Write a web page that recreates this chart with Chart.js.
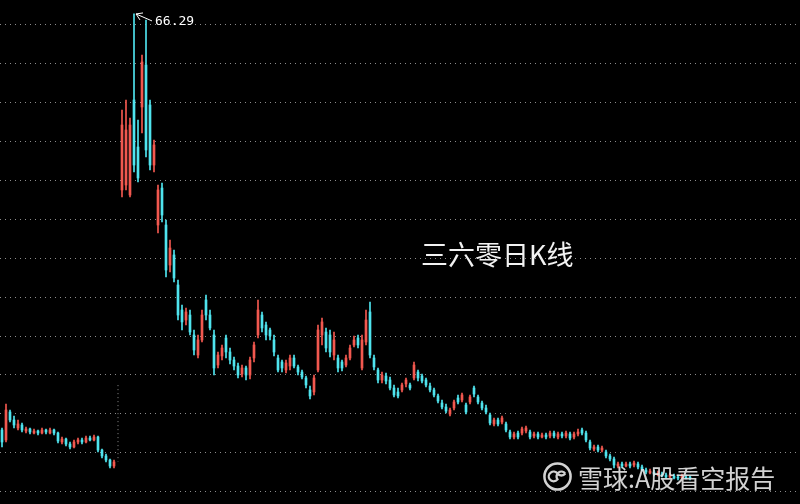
<!DOCTYPE html>
<html>
<head>
<meta charset="utf-8">
<script src="https://cdn.jsdelivr.net/npm/chart.js@4.4.1/dist/chart.umd.min.js"></script>
<style>
html, body { margin: 0; padding: 0; background: #000; }
#wrap { position: relative; width: 800px; height: 504px; overflow: hidden; }
#title { position: absolute; left: 421px; top: 240px; color: #f2f2f2; font: 27px/27px "Noto Sans CJK SC", sans-serif; }
#mark { position: absolute; left: 542px; top: 461px; color: rgba(228,228,228,0.92); font: 25px/30px "Noto Sans CJK SC", sans-serif; display: flex; align-items: center; }
#mark svg { margin-right: 5px; }
</style>
</head>
<body>
<div id="wrap">
<canvas id="kChart" width="800" height="504"></canvas>
<div id="title">三六零日K线</div>
<div id="mark"><svg width="31" height="31" viewBox="-16 -16 32 32"><circle r="13.5" fill="none" stroke="rgba(228,228,228,0.92)" stroke-width="2.6"/><path d="M -8 3 A 5 5 0 0 1 0 -3 A 5 5 0 0 0 8 -3 M -8 3 A 5 5 0 0 0 0 3 A 5 5 0 0 1 8 -3" fill="none" stroke="rgba(228,228,228,0.92)" stroke-width="2.4"/></svg><span>雪球:A股看空报告</span></div>
</div>
<script>
// daily candles, old listing (0-28), break (29), then 360 after listing
const opens = [
  12.95, 11.67, 15.26, 14.23, 13.21, 13.59, 12.82, 13.08, 12.56, 12.82,
  12.56, 12.95, 12.56, 12.95, 12.56, 11.41, 11.79, 11.15, 10.77, 11.41,
  11.67, 11.41, 11.92, 11.67, 12.05, 10.38, 9.62, 9.10, 8.33, null,
  43.72, 44.36, 43.08, 55.26, 49.23, 54.36, 59.74, 54.62, 46.92, 39.23,
  43.97, 39.23, 34.10, 35.39, 31.54, 28.33, 27.05, 27.69, 25.13, 22.56,
  24.49, 29.62, 27.69, 25.13, 21.28, 22.44, 24.74, 22.95, 21.92, 21.15,
  20.13, 20.90, 20.00, 22.18, 25.13, 27.69, 26.41, 25.77, 24.49, 22.18,
  21.67, 20.64, 21.15, 22.18, 21.03, 20.38, 19.62, 18.08, 17.82, 20.64,
  25.13, 25.51, 25.13, 22.56, 22.18, 21.67, 21.28, 22.18, 23.85, 24.74,
  20.90, 24.23, 28.08, 22.18, 20.64, 19.36, 19.87, 19.36, 18.33, 17.82,
  18.08, 18.85, 18.72, 19.62, 20.38, 19.87, 19.36, 18.59, 18.08, 17.31,
  16.41, 15.90, 15.00, 15.77, 17.05, 16.80, 16.15, 16.54, 18.33, 17.18,
  16.41, 15.77, 14.87, 13.72, 14.23, 13.97, 13.72, 12.69, 12.05, 12.56,
  12.56, 12.82, 12.69, 12.18, 12.44, 12.05, 12.31, 12.18, 12.56, 12.05,
  12.44, 12.18, 12.44, 12.05, 12.44, 12.95, 12.56, 11.41, 10.51, 10.77,
  10.38, 10.13, 9.62, 9.23, 8.33, 8.59, 8.33, 8.59, 8.46, 8.59,
  8.21, 7.82, 7.44, 7.56, 7.18, 7.31, 7.18, 6.92, 7.05, 6.92,
  6.79, 6.92, 6.92
]
const highs = [
  13.21, 16.28, 15.51, 14.74, 14.23, 13.85, 13.33, 13.21, 13.08, 12.95,
  13.21, 13.08, 13.21, 13.08, 12.69, 12.05, 11.92, 11.41, 11.67, 11.92,
  11.92, 12.18, 12.18, 12.31, 12.18, 10.51, 9.87, 9.23, 9.10, null,
  53.97, 55.26, 52.95, 66.29, 52.69, 61.03, 65.51, 55.26, 50.13, 44.36,
  44.62, 39.87, 37.31, 36.03, 32.18, 28.97, 28.59, 28.33, 25.77, 25.13,
  28.33, 30.26, 28.33, 25.77, 22.95, 23.85, 25.13, 23.46, 22.31, 21.54,
  21.28, 21.15, 22.31, 24.23, 29.62, 28.08, 26.80, 26.03, 25.13, 22.56,
  21.92, 21.92, 22.56, 22.56, 21.28, 20.64, 19.87, 18.59, 20.00, 26.41,
  27.31, 26.03, 25.77, 25.51, 22.56, 21.92, 22.56, 23.85, 25.00, 25.13,
  25.13, 28.33, 29.36, 22.56, 20.90, 20.38, 20.26, 19.74, 18.72, 18.33,
  18.97, 19.62, 18.97, 21.67, 20.64, 20.13, 19.62, 18.97, 18.33, 17.56,
  16.80, 16.28, 15.77, 16.80, 17.44, 17.69, 16.41, 17.44, 18.59, 17.44,
  16.67, 16.15, 15.13, 14.49, 14.49, 14.74, 13.97, 12.95, 12.69, 12.82,
  13.33, 13.46, 12.95, 12.69, 12.69, 12.56, 12.56, 12.82, 12.82, 12.69,
  12.69, 12.82, 12.69, 12.69, 13.08, 13.21, 12.82, 11.67, 11.03, 11.03,
  10.90, 10.38, 9.87, 9.49, 8.85, 8.85, 8.85, 8.85, 8.97, 8.85,
  8.46, 8.08, 7.95, 7.82, 7.69, 7.56, 7.44, 7.44, 7.31, 7.18,
  7.31, 7.18, 7.05
]
const lows = [
  10.77, 11.41, 13.97, 13.21, 12.95, 12.69, 12.56, 12.44, 12.44, 12.31,
  12.44, 12.44, 12.44, 12.31, 11.28, 11.15, 10.90, 10.51, 10.64, 11.15,
  11.15, 11.28, 11.54, 11.54, 10.13, 9.36, 8.85, 8.08, 8.08, null,
  42.82, 43.72, 42.82, 46.03, 44.74, 51.03, 47.95, 46.28, 46.03, 38.21,
  39.62, 32.56, 33.20, 31.92, 27.05, 25.77, 26.41, 25.13, 22.56, 22.18,
  24.23, 27.05, 25.77, 20.00, 20.90, 21.92, 22.18, 21.41, 20.64, 19.62,
  19.74, 19.36, 19.49, 21.67, 24.74, 25.51, 24.49, 24.49, 22.44, 20.38,
  20.38, 20.26, 20.64, 20.90, 20.00, 19.49, 18.33, 16.92, 17.44, 20.38,
  23.85, 22.95, 22.31, 21.92, 20.38, 20.51, 21.03, 21.92, 23.59, 23.46,
  20.64, 23.85, 22.18, 20.64, 18.97, 18.97, 18.85, 18.08, 17.18, 17.05,
  17.82, 18.46, 18.08, 19.36, 19.23, 18.97, 18.46, 17.82, 17.18, 16.41,
  15.64, 15.13, 14.74, 15.51, 16.28, 16.54, 15.00, 16.28, 17.18, 16.28,
  15.51, 15.00, 13.59, 13.46, 13.46, 13.72, 12.69, 11.79, 11.79, 11.79,
  12.31, 12.56, 11.79, 11.92, 11.79, 11.92, 11.79, 11.92, 11.92, 11.79,
  11.92, 11.92, 11.67, 11.79, 12.18, 12.31, 11.41, 10.38, 10.26, 10.13,
  10.13, 9.36, 8.97, 8.08, 8.08, 8.08, 8.21, 8.08, 8.21, 7.95,
  7.69, 7.31, 7.31, 7.05, 7.05, 6.92, 6.79, 6.79, 6.67, 6.54,
  6.67, 6.67, 6.54
]
const closes = [
  11.41, 15.51, 14.23, 13.59, 13.72, 12.95, 13.08, 12.69, 12.82, 12.56,
  12.95, 12.69, 12.95, 12.56, 11.54, 11.79, 11.15, 10.77, 11.41, 11.67,
  11.41, 11.92, 11.67, 12.05, 10.38, 9.62, 9.10, 8.33, 8.85, null,
  52.05, 51.41, 52.05, 46.92, 45.26, 60.13, 48.85, 46.92, 49.49, 43.72,
  40.51, 33.46, 36.28, 32.44, 27.69, 26.80, 28.08, 25.51, 23.21, 24.49,
  27.69, 27.69, 26.03, 20.90, 22.56, 23.46, 22.95, 21.92, 21.15, 20.00,
  20.90, 20.00, 21.92, 23.85, 28.33, 26.03, 25.13, 25.00, 22.95, 20.64,
  20.90, 21.54, 22.18, 21.15, 20.38, 19.74, 18.72, 17.31, 19.62, 25.77,
  26.80, 23.46, 22.95, 24.49, 20.90, 20.90, 22.18, 23.46, 24.49, 23.85,
  24.49, 27.05, 22.56, 21.03, 19.36, 20.00, 19.23, 18.33, 17.44, 17.31,
  18.72, 19.36, 18.33, 21.28, 19.62, 19.23, 18.72, 18.08, 17.44, 16.67,
  15.90, 15.38, 15.51, 16.54, 16.54, 17.44, 15.26, 17.18, 17.56, 16.54,
  15.77, 15.26, 13.85, 14.23, 13.72, 14.49, 12.95, 12.05, 12.44, 12.05,
  13.08, 13.21, 12.05, 12.44, 12.05, 12.31, 12.05, 12.56, 12.18, 12.44,
  12.18, 12.56, 11.92, 12.44, 12.69, 12.56, 11.67, 10.64, 10.77, 10.38,
  10.64, 9.62, 9.23, 8.46, 8.59, 8.33, 8.59, 8.33, 8.72, 8.21,
  7.82, 7.56, 7.69, 7.31, 7.44, 7.05, 6.92, 7.18, 6.79, 6.79,
  7.05, 6.79, 6.79
]
// break between old listing and the new one
const gapSlot = '29'
const gapMarker = [18.7, 8.9]

const slotCount = 200
const days = []
for (let i = 0; i < slotCount; i++) days.push(String(i))

const upColor = '#f2584f'
const downColor = '#4fe4ee'

const candleColors = closes.map((c, i) => (c > opens[i] ? upColor : downColor))
const bodies = opens.map((o, i) => (o == null ? null : [o, closes[i]]))
const wicks = lows.map((l, i) => (l == null ? null : [l, highs[i]]))

const peakLabel = {
  id: 'peakLabel',
  afterDatasetsDraw(chart) {
    const ctx = chart.ctx
    const x = chart.scales.x
    const y = chart.scales.y
    let k = 0
    highs.forEach((h, i) => { if (h != null && h > highs[k]) k = i })
    const px = x.getPixelForValue(k) + 2
    const py = y.getPixelForValue(highs[k])
    ctx.save()
    ctx.strokeStyle = '#ffffff'
    ctx.lineWidth = 1
    ctx.beginPath()
    ctx.moveTo(px, py); ctx.lineTo(px + 16, py + 7)
    ctx.moveTo(px, py); ctx.lineTo(px + 7, py - 1)
    ctx.moveTo(px, py); ctx.lineTo(px + 4, py + 6)
    ctx.stroke()
    ctx.fillStyle = '#ffffff'
    ctx.font = '13px "DejaVu Sans Mono"'
    ctx.textBaseline = 'middle'
    ctx.fillText(highs[k].toFixed(2), px + 19, py + 8)
    ctx.restore()
  }
}

const ctx = document.getElementById('kChart').getContext('2d')
const kChart = new Chart(ctx, {
  type: 'bar',
  data: {
    labels: days,
    datasets: [
      {
        data: bodies,
        backgroundColor: candleColors,
        barThickness: 2,
        minBarLength: 1,
        grouped: false,
        borderWidth: 0
      },
      {
        data: wicks,
        backgroundColor: candleColors,
        barThickness: 1,
        grouped: false,
        borderWidth: 0
      },
      {
        type: 'line',
        data: [{ x: gapSlot, y: gapMarker[0] }, { x: gapSlot, y: gapMarker[1] }],
        borderColor: '#8a8a8a',
        borderWidth: 1,
        borderDash: [1, 3],
        pointRadius: 0
      }
    ]
  },
  options: {
    responsive: false,
    animation: false,
    devicePixelRatio: 1,
    events: [],
    layout: { padding: 0 },
    plugins: { legend: { display: false }, tooltip: { enabled: false } },
    scales: {
      x: { type: 'category', display: false, offset: true },
      y: {
        type: 'linear',
        min: 3.4615,
        max: 68.077,
        ticks: { display: false, stepSize: 5, includeBounds: false },
        grid: { color: '#8c8c8c', lineWidth: 1, drawTicks: false },
        border: { display: false, dash: [1, 4] }
      }
    }
  },
  plugins: [peakLabel]
})
</script>
</body>
</html>
